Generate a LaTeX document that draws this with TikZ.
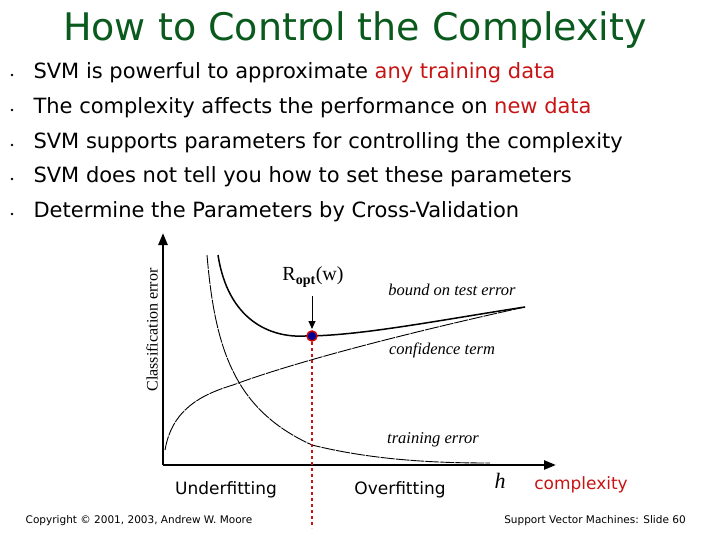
\documentclass[tikz,border=0pt]{standalone}
\usepackage{fontspec}
\setmainfont{DejaVu Sans}
\newfontfamily\serifx{Liberation Serif}
\usetikzlibrary{arrows.meta}
\definecolor{dred}{RGB}{200,20,20}
\definecolor{tgreen}{RGB}{10,90,30}
\begin{document}
\begin{tikzpicture}[x=1pt,y=-1pt,
  bul/.style={anchor=west,font=\fontsize{21}{23}\selectfont},
  lab/.style={font=\serifx\itshape\fontsize{16.5}{18}\selectfont},
  foot/.style={font=\fontsize{10.5}{12}\selectfont}]
\useasboundingbox (0,0) rectangle (720,540);
\node (title) at (355,30) {\fontsize{38}{42}\selectfont\color{tgreen}How to Control the Complexity};
\foreach \y/\t [count=\i] in {73/{SVM is powerful to approximate \textcolor{dred}{any training data}},
 108/{The complexity affects the performance on \textcolor{dred}{new data}},
 143/{SVM supports parameters for controlling the complexity},
 177/{SVM does not tell you how to set these parameters},
 212/{Determine the Parameters by Cross-Validation}}{
  \node[bul] (b\i) at (30,\y) {\t};
  \fill (12,\y+2) circle (1.4);
}
\coordinate (o) at (163,465);
\coordinate (ytop) at (163,233);
\coordinate (xend) at (556,465);
\draw[line width=2.5pt,-{Triangle[length=12pt,width=9pt]}] (o) -- (ytop);
\draw[line width=2.5pt,-{Triangle[length=12pt,width=9pt]}] (o) -- (xend);
\draw[line width=0.9pt,dash pattern=on 14pt off 1pt] (207,255) .. controls (215,350) and (235,410) .. (312,445) .. controls (380,462) and (450,463) .. (490,463);
\draw[line width=0.9pt,dash pattern=on 14pt off 1pt] (165,450) .. controls (172,410) and (200,395) .. (233,385) .. controls (300,360) and (420,330) .. (525,307);
\draw[line width=1.5pt] (218,255) .. controls (228,320) and (270,338) .. (305,336) .. controls (360,336) and (440,320) .. (525,307);
\coordinate (dtop) at (312,336);
\coordinate (dbot) at (312,528);
\draw[dred,line width=1.3pt,dashed] (dtop) -- (dbot);
\fill[blue!60!black] (dtop) circle (4.5);
\draw[red!80!black,line width=1.5pt] (dtop) circle (5);
\node (ropt) at (313,277) {\serifx\fontsize{20}{22}\selectfont R\textsubscript{\textbf{opt}}(w)};
\draw[line width=1pt,-{Triangle[length=8pt,width=7pt]}] (312,296) -- (312,329);
\node[lab] (lb) at (452,290) {bound on test error};
\node[lab] (lc) at (442,350) {confidence term};
\node[lab] (lt) at (433,440) {training error};
\node[rotate=90,font=\serifx\fontsize{16}{18}\selectfont] (ce) at (152,330) {Classification error};
\node[font=\fontsize{17}{19}\selectfont] (uf) at (226,490) {Underfitting};
\node[font=\fontsize{17}{19}\selectfont] (of) at (400,490) {Overfitting};
\node[font=\serifx\itshape\fontsize{22}{24}\selectfont] (h) at (500,481) {h};
\node[font=\fontsize{17}{19}\selectfont,text=dred] (cx) at (581,485) {complexity};
\node[foot] (f1) at (139,521) {Copyright © 2001, 2003, Andrew W. Moore};
\node[foot] (f2) at (595,521) {Support Vector Machines: Slide 60};
\end{tikzpicture}
\end{document}
